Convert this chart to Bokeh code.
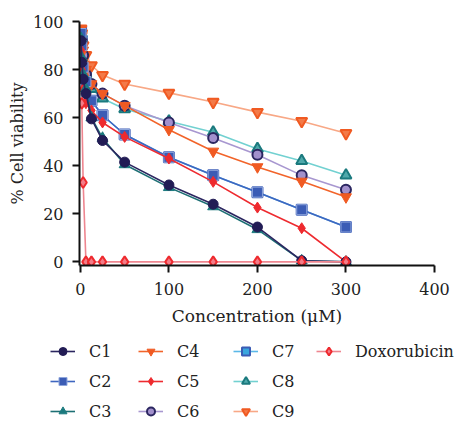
from bokeh.plotting import figure
from bokeh.models import Legend, Range1d, FixedTicker
from bokeh.layouts import column
from bokeh.embed import file_html
from bokeh.resources import INLINE

conc = [0.78, 1.56, 3.125, 6.25, 12.5, 25, 50, 100, 150, 200, 250, 300]
dox_conc = [1.56, 3.125, 6.25, 12.5, 25, 50, 100, 150, 200, 250, 300]

C1 = [92, 83, 76, 70, 59.5, 50.5, 41.5, 32, 24, 14.5, 0.5, 0]
C2 = [95, 90, 81, 75, 67, 61, 53, 43.5, 36, 29, 21.7, 14.5]
C3 = [93, 85, 78, 72, 60, 51.5, 40.5, 31, 23, 13.5, 0.5, 0]
C4 = [97, 94, 88, 80, 74, 70, 65, 55, 46, 39.5, 33.5, 27]
C5 = [88, 80, 72, 66, 63, 58, 52, 43, 33.3, 22.6, 14, 0]
C6 = [96, 92, 86, 78, 74, 70, 65, 58, 51.5, 44.6, 36, 30]
C7 = [96, 92, 85, 78, 67, 61, 53, 43.5, 36, 29, 21.7, 14.5]
C8 = [95, 90, 84, 78, 72, 68, 63.6, 58.5, 53.9, 47, 42, 36]
C9 = [97, 95, 90, 86, 81.7, 77.7, 74, 70.3, 66.5, 62.3, 58.5, 53.5]
DOX = [66, 33, 0, 0, 0, 0, 0, 0, 0, 0, 0]

x_ticks = [0, 100, 200, 300, 400]
y_ticks = [0, 20, 40, 60, 80, 100]

FONT = "DejaVu Serif"

p = figure(width=462, height=336, output_backend="svg", toolbar_location=None,
           x_range=Range1d(-1, 400), y_range=Range1d(-1.5, 100),
           min_border_left=79, min_border_right=28, min_border_top=21,
           min_border_bottom=71)
p.frame_align = False
p.grid.visible = False
p.outline_line_color = None

# legend-only figure (same data, drawn outside its visible range)
lf = figure(width=462, height=86, output_backend="svg", toolbar_location=None,
            x_range=Range1d(1000, 1001), y_range=Range1d(1000, 1001),
            x_axis_type=None, y_axis_type=None, min_border=0)
lf.frame_align = False
lf.grid.visible = False
lf.outline_line_color = None

# series: (name, values, x, line color, marker, fill, edge, size)
series = [
    ("C1", C1, conc, "#2b2660", "circle", "#221c55", "#221c55", 10),
    ("C2", C2, conc, "#3e66c0", "square", "#3b5cb5", "#8fa6dc", 10),
    ("C3", C3, conc, "#1d6f74", "triangle", "#1b7a7e", "#1b7a7e", 11),
    ("C4", C4, conc, "#f2642a", "inverted_triangle", "#f05a22", "#f05a22", 11),
    ("C5", C5, conc, "#ee2b30", "diamond", "#ee2a2e", "#ee2a2e", 11),
    ("C6", C6, conc, "#a897d0", "circle", "#a290cc", "#2b2660", 10),
    ("C7", C7, conc, "#5bb8e8", "square", "#3aa6de", "#3b5cb5", 10),
    ("C8", C8, conc, "#72d1d1", "triangle", "#4fa9ab", "#1b7a7e", 11),
    ("C9", C9, conc, "#f8a886", "inverted_triangle", "#f37a48", "#f05a22", 11),
    ("Doxorubicin", DOX, dox_conc, "#ee8690", "diamond", "#f47c88", "#ee2a2e", 11),
]

def draw(fig, s):
    name, vals, xs, lc, mk, fc, ec, sz = s
    r1 = fig.line(xs, vals, line_color=lc, line_width=1.6)
    r2 = fig.scatter(xs, vals, marker=mk, size=sz, fill_color=fc, line_color=ec,
                     line_width=2 if name in ("C6", "C7", "C8", "C9", "Doxorubicin") else 1)
    return [r1, r2]

draw_order = [6, 7, 8, 5, 3, 1, 4, 2, 0, 9]
for i in draw_order:
    draw(p, series[i])

leg_renderers = {i: draw(lf, series[i]) for i in range(len(series))}

# legend columns (series indices) and their x offsets in the legend figure
columns = [([0, 1, 2], 50), ([3, 4, 5], 138), ([6, 7, 8], 233), ([9], 316)]
for idxs, xoff in columns:
    items = [(series[i][0], leg_renderers[i]) for i in idxs]
    n = len(idxs)
    h = n * 20 + (n - 1) * 10
    yoff = 86 - 5 - h
    lg = Legend(items=items, orientation="vertical",
                label_text_font=FONT, label_text_font_size="16px",
                label_text_color="#222222",
                glyph_width=25, glyph_height=20, label_standoff=14,
                spacing=10, padding=0, margin=0,
                border_line_color=None, background_fill_alpha=0,
                location=(xoff, yoff))
    lf.add_layout(lg, "center")

for ax in (p.xaxis[0], p.yaxis[0]):
    ax.axis_line_width = 2
    ax.axis_line_color = "#111111"
    ax.major_tick_line_width = 2
    ax.major_tick_line_color = "#111111"
    ax.major_tick_out = 7
    ax.major_tick_in = 0
    ax.minor_tick_line_color = None
    ax.major_label_text_font = FONT
    ax.major_label_text_font_size = "16px"
    ax.major_label_text_color = "#222222"
    ax.axis_label_text_font = FONT
    ax.axis_label_text_font_style = "normal"
    ax.axis_label_text_color = "#222222"

p.xaxis.axis_label_text_font_size = "17px"
p.yaxis.axis_label_text_font_size = "16px"
p.xaxis.ticker = FixedTicker(ticks=x_ticks)
p.yaxis.ticker = FixedTicker(ticks=y_ticks)
p.xaxis.axis_label = "Concentration (μM)"
p.yaxis.axis_label = "% Cell viability"
p.xaxis.major_label_standoff = 10
p.yaxis.major_label_standoff = 9
p.xaxis.axis_label_standoff = 8
p.yaxis.axis_label_standoff = 3

open("out.html", "w").write(file_html(column(p, lf, spacing=0), INLINE))
